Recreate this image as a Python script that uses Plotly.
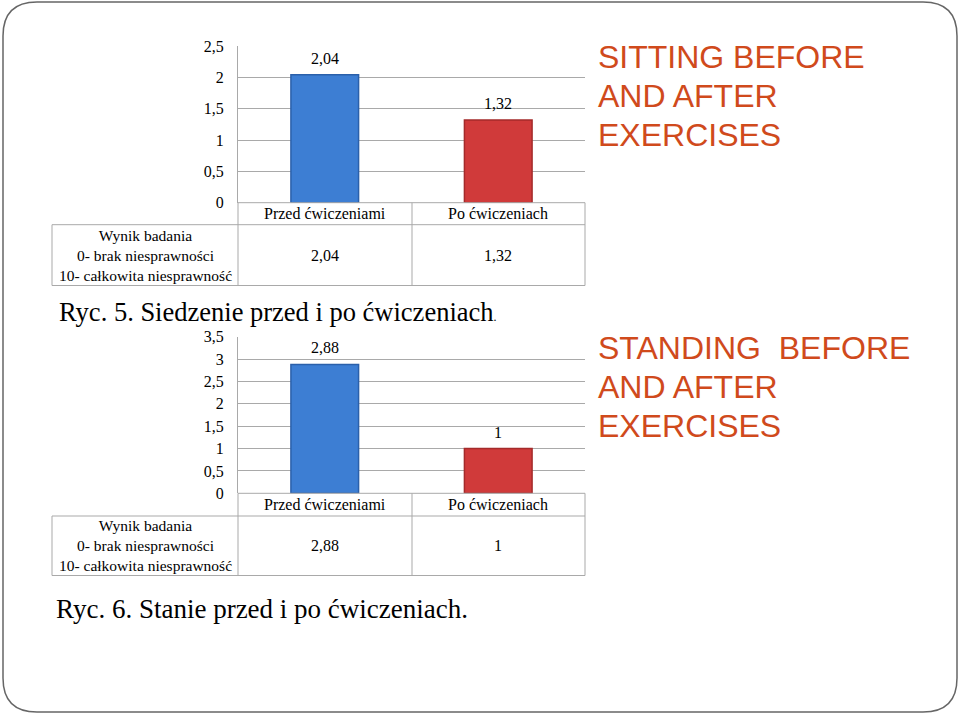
import plotly.graph_objects as go

W, H = 960, 714

categories = ["Przed ćwiczeniami", "Po ćwiczeniach"]
sitting = [2.04, 1.32]
standing = [2.88, 1.0]
row_header = "Wynik badania<br>0- brak niesprawności<br>10- całkowita niesprawność"
sit_ticks = [0, 0.5, 1, 1.5, 2, 2.5]
stand_ticks = [0, 0.5, 1, 1.5, 2, 2.5, 3, 3.5]
caption_sit = "Ryc. 5. Siedzenie przed i po ćwiczeniach<span style='font-size:12px'>.</span>"
caption_stand = "Ryc. 6. Stanie przed i po ćwiczeniach."
title_sit = ["SITTING BEFORE", "AND AFTER", "EXERCISES"]
title_stand = ["STANDING\u00a0 BEFORE", "AND AFTER", "EXERCISES"]

BAR_FILL = ["#3D7ED3", "#D03A3A"]
BAR_EDGE = ["#2B60AA", "#A42A2A"]
GRID = "#A9A9A9"
SERIF = "Liberation Serif"
ORANGE = "#D04A1C"


def fmt(v):
    return f"{v:g}".replace(".", ",")


def px_x(x):
    return x / W


def px_y(y):
    return 1 - y / H


def label(x, y, text, size=16, color="black", family=SERIF, xref="paper", xanchor="center"):
    return dict(x=x, y=y, xref=xref, yref="paper", text=text, showarrow=False,
                xanchor=xanchor, yanchor="middle",
                font=dict(family=family, size=size, color=color))


fig = go.Figure()
shapes = []
annotations = []

# left x of table, plot left, category divider, right edge
X_TABLE, X_PLOT, X_MID, X_RIGHT = 52, 238, 412, 585

panels = [
    # values, ticks, axis suffix, y of top tick, y of zero, category row bottom, table bottom
    (sitting, sit_ticks, "", 46, 202.7, 224.7, 285.5),
    (standing, stand_ticks, "2", 336.7, 493.3, 516, 575.5),
]

line = dict(color=GRID, width=1)


def hline(x0, x1, y):
    return dict(type="line", xref="paper", yref="paper",
                x0=px_x(x0), x1=px_x(x1), y0=px_y(y), y1=px_y(y), line=line)


def vline(x, y0, y1):
    return dict(type="line", xref="paper", yref="paper",
                x0=px_x(x), x1=px_x(x), y0=px_y(y0), y1=px_y(y1), line=line)


for values, ticks, ax, y_top, y_zero, y_cat, y_bot in panels:
    xa = "x" + ax
    ya = "y" + ax
    fig.add_trace(go.Bar(
        x=categories, y=values,
        xaxis=xa, yaxis=ya,
        width=0.39,
        marker=dict(color=BAR_FILL, line=dict(color=BAR_EDGE, width=1.5)),
        showlegend=False,
    ))
    fig.update_layout(**{
        "xaxis" + ax: dict(
            domain=[px_x(X_PLOT), px_x(X_RIGHT)], anchor=ya,
            range=[-0.5, 1.5], showticklabels=False, showgrid=False,
            zeroline=False, showline=False, fixedrange=True, automargin=False,
        ),
        "yaxis" + ax: dict(
            domain=[px_y(y_zero), px_y(y_top)], anchor=xa,
            range=[0, ticks[-1]], tickvals=ticks,
            ticktext=[fmt(t) for t in ticks],
            tickfont=dict(family=SERIF, size=16, color="black"),
            ticklabelstandoff=10, automargin=False,
            showgrid=True, gridcolor=GRID, gridwidth=1,
            zeroline=False, showline=True, linecolor=GRID, linewidth=1,
        ),
    })

    # value labels above the bars
    for cat, v in zip(categories, values):
        annotations.append(dict(x=cat, y=v, xref=xa, yref=ya, text=fmt(v), showarrow=False,
                                xanchor="center", yanchor="bottom", yshift=6,
                                font=dict(family=SERIF, size=16, color="black")))

    # table grid
    shapes += [hline(X_PLOT, X_RIGHT, y_zero), hline(X_TABLE, X_RIGHT, y_cat),
               hline(X_TABLE, X_RIGHT, y_bot), vline(X_TABLE, y_cat, y_bot)]
    shapes += [vline(x, y_zero, y_bot) for x in (X_PLOT, X_MID, X_RIGHT)]

    # table text
    for cat, v in zip(categories, values):
        annotations.append(label(cat, px_y((y_zero + y_cat) / 2), cat, xref=xa))
        annotations.append(label(cat, px_y((y_cat + y_bot) / 2), fmt(v), xref=xa))
    annotations.append(label(px_x((X_TABLE + X_PLOT) / 2), px_y((y_cat + y_bot) / 2),
                             row_header, size=15.5))

# captions
annotations.append(label(px_x(57), px_y(312), caption_sit, size=26.5, xanchor="left"))
annotations.append(label(px_x(54), px_y(609), caption_stand, size=27, xanchor="left"))

# right-hand titles
for lines, y0 in ((title_sit, 57), (title_stand, 348)):
    for i, t in enumerate(lines):
        annotations.append(label(px_x(596), px_y(y0 + 39 * i), t, size=32, color=ORANGE,
                                 family="Liberation Sans", xanchor="left"))

# slide frame with rounded corners, drawn on a pixel-scaled helper axis
r = 34
L, T, R, B = 3, 2, 957, 712
path = (f"M {L + r},{T} L {R - r},{T} Q {R},{T} {R},{T + r} "
        f"L {R},{B - r} Q {R},{B} {R - r},{B} L {L + r},{B} Q {L},{B} {L},{B - r} "
        f"L {L},{T + r} Q {L},{T} {L + r},{T} Z")
shapes.append(dict(type="path", xref="x3", yref="y3", path=path,
                   line=dict(color="#666666", width=1.5), layer="below"))

fig.update_layout(
    width=W, height=H,
    margin=dict(l=0, r=0, t=0, b=0, pad=0, autoexpand=False),
    paper_bgcolor="white", plot_bgcolor="rgba(0,0,0,0)",
    xaxis3=dict(domain=[0, 1], range=[0, W], visible=False, fixedrange=True, automargin=False),
    yaxis3=dict(domain=[0, 1], range=[H, 0], visible=False, fixedrange=True, automargin=False),
    shapes=shapes,
    annotations=annotations,
)

fig.write_html(
    "out.html",
    config={"displayModeBar": False, "responsive": False},
    post_script=(
        "document.documentElement.style.margin='0';"
        "document.documentElement.style.overflow='hidden';"
        "document.body.style.margin='0';"
        "document.body.style.padding='0';"
    ),
)
